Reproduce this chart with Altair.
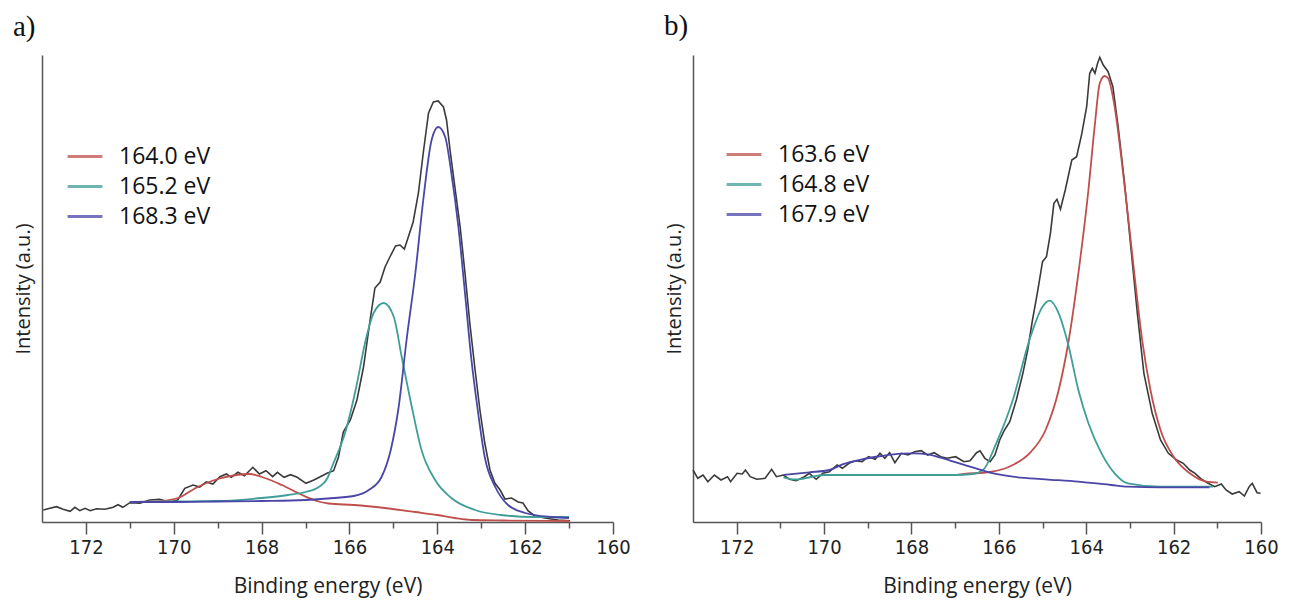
import altair as alt
import pandas as pd

# ---------------- Panel a ----------------
a_spec_E = [172.97, 172.82, 172.67, 172.52, 172.36, 172.25, 172.14, 172.02, 171.90, 171.76,
            171.57, 171.38, 171.27, 171.16, 171.00, 170.77, 170.55, 170.32, 170.10, 169.91,
            169.75, 169.56, 169.41, 169.26, 169.11, 168.95, 168.80, 168.69, 168.54, 168.39,
            168.20, 168.05, 167.90, 167.75, 167.64, 167.49, 167.34, 167.19, 166.99, 166.81,
            166.62, 166.51, 166.36, 166.25, 166.14, 165.98, 165.83, 165.68, 165.53, 165.42,
            165.30, 165.19, 165.08, 164.95, 164.85, 164.75, 164.66, 164.55, 164.43, 164.32,
            164.20, 164.09, 163.98, 163.86, 163.79, 163.71, 163.60, 163.48, 163.37, 163.26,
            163.14, 163.03, 162.92, 162.80, 162.69, 162.57, 162.46, 162.31, 162.16, 162.05,
            161.93, 161.78, 161.55, 161.25, 160.98]
a_spec_I = [12.0, 13.7, 15.3, 12.7, 10.7, 14.7, 11.3, 13.7, 11.3, 13.3,
            12.7, 14.7, 17.3, 14.7, 19.3, 18.7, 22.0, 22.7, 20.0, 22.0,
            33.7, 37.0, 35.0, 40.0, 38.0, 45.3, 48.0, 44.7, 49.7, 46.3,
            54.7, 48.0, 51.3, 45.3, 49.7, 44.7, 47.3, 44.7, 38.7, 42.0,
            46.3, 48.7, 51.3, 65.0, 90.0, 102.0, 122.0, 155.0, 202.0, 234.0,
            240.0, 255.0, 265.0, 276.0, 277.0, 273.0, 285.0, 300.0, 329.0, 369.0,
            409.0, 420.0, 421.0, 415.0, 402.0, 372.0, 335.0, 295.0, 249.0, 199.0,
            152.0, 112.0, 79.0, 52.0, 39.0, 32.0, 23.0, 24.0, 20.0, 19.0,
            11.0, 6.0, 4.0, 2.0, 1.3]

a_labels = ["164.0 eV", "165.2 eV", "168.3 eV"]
# red component (legend label 164.0 eV)
a_red_E = [171.0, 170.4, 169.9, 169.5, 169.0, 168.58, 168.28, 167.99, 167.54, 167.08,
           166.7, 166.47, 165.9, 165.2, 164.5, 164.0, 163.6, 163.2, 162.5, 161.0]
a_red_I = [20.0, 20.5, 24.0, 34.0, 43.0, 47.0, 48.0, 45.0, 37.0, 27.0,
           20.5, 18.5, 17.0, 14.0, 10.0, 7.0, 4.0, 2.0, 1.5, 1.0]
# teal component (legend label 165.2 eV)
a_teal_E = [171.0, 170.0, 169.0, 168.0, 167.4, 167.0, 166.7, 166.5, 166.4, 166.08,
            165.86, 165.63, 165.45, 165.22, 164.99, 164.81, 164.58, 164.36, 164.05, 163.68,
            163.14, 162.55, 161.78, 161.0]
a_teal_I = [20.0, 20.5, 21.0, 24.0, 27.0, 30.0, 35.0, 44.0, 55.0, 92.0,
            132.0, 182.0, 209.0, 219.0, 205.0, 165.0, 115.0, 72.0, 42.0, 24.0,
            12.0, 7.0, 5.0, 5.0]
# purple component (legend label 168.3 eV)
a_purple_E = [171.0, 170.0, 169.0, 168.0, 167.0, 166.5, 165.9, 165.56, 165.27, 165.06,
              164.88, 164.7, 164.5, 164.32, 164.13, 163.98, 163.82, 163.68, 163.52, 163.37,
              163.23, 163.07, 162.92, 162.68, 162.39, 162.0, 161.4, 161.0]
a_purple_I = [20.0, 20.0, 20.5, 21.0, 22.0, 23.5, 26.0, 32.0, 45.0, 72.0,
              115.0, 182.0, 249.0, 322.0, 382.0, 395.0, 385.0, 349.0, 295.0, 229.0,
              165.0, 109.0, 65.0, 35.0, 17.0, 9.0, 5.0, 4.0]

# ---------------- Panel b ----------------
b_spec_E = [173.0, 172.89, 172.77, 172.66, 172.51, 172.36, 172.21, 172.14, 171.99, 171.87,
            171.80, 171.69, 171.54, 171.35, 171.20, 171.09, 170.93, 170.79, 170.64, 170.45,
            170.34, 170.18, 170.03, 169.88, 169.70, 169.58, 169.43, 169.28, 169.13, 168.98,
            168.83, 168.72, 168.61, 168.50, 168.38, 168.23, 168.08, 167.93, 167.78, 167.63,
            167.48, 167.33, 167.18, 166.99, 166.80, 166.66, 166.51, 166.43, 166.32, 166.20,
            166.09, 165.98, 165.87, 165.75, 165.60, 165.45, 165.34, 165.23, 165.12, 165.00,
            164.91, 164.82, 164.74, 164.67, 164.59, 164.48, 164.33, 164.22, 164.10, 163.99,
            163.92, 163.86, 163.80, 163.74, 163.69, 163.61, 163.50, 163.39, 163.27, 163.13,
            162.98, 162.83, 162.68, 162.49, 162.30, 162.12, 161.93, 161.78, 161.63, 161.51,
            161.36, 161.21, 161.06, 160.91, 160.80, 160.66, 160.50, 160.38, 160.27, 160.20,
            160.09, 160.01]
b_spec_I = [52.0, 43.7, 47.0, 40.3, 47.0, 42.0, 45.3, 40.3, 48.7, 48.0,
            52.0, 45.3, 42.7, 43.7, 52.7, 45.3, 47.0, 42.7, 41.3, 45.3,
            48.7, 42.7, 48.7, 50.3, 57.0, 53.7, 58.7, 61.3, 60.3, 65.3,
            62.7, 68.7, 63.7, 69.3, 59.3, 68.7, 67.0, 70.3, 71.3, 67.0,
            69.3, 65.3, 63.7, 65.3, 60.3, 61.3, 69.3, 71.3, 63.7, 60.3,
            67.0, 82.0, 92.0, 100.3, 122.0, 148.7, 172.0, 202.0, 228.7, 260.3,
            265.3, 288.7, 318.7, 322.7, 312.7, 332.0, 362.0, 365.3, 388.7, 415.3,
            448.7, 453.7, 448.7, 458.7, 464.7, 457.0, 450.3, 435.3, 395.3, 342.0,
            275.3, 208.7, 148.7, 108.7, 82.0, 68.7, 62.0, 58.7, 52.0, 48.7,
            42.7, 38.7, 35.3, 38.0, 32.0, 28.0, 30.3, 26.0, 35.3, 38.7,
            29.3, 28.7]

b_labels = ["163.6 eV", "164.8 eV", "167.9 eV"]
b_red_E = [168.2, 167.0, 166.8, 166.2, 165.68, 165.3, 164.93, 164.63, 164.4, 164.18,
           163.95, 163.8, 163.69, 163.58, 163.5, 163.35, 163.2, 163.05, 162.9, 162.72,
           162.53, 162.3, 162.0, 161.63, 161.25, 160.99]
b_red_I = [47.0, 47.0, 48.0, 50.0, 57.0, 68.7, 92.0, 132.0, 182.0, 248.7,
           332.0, 398.7, 438.7, 446.0, 443.7, 415.3, 365.3, 308.7, 248.7, 182.0,
           132.0, 92.0, 65.3, 48.7, 40.3, 39.3]
b_teal_E = [170.93, 170.64, 170.3, 170.0, 169.0, 168.0, 167.0, 166.6, 166.36, 166.06,
            165.68, 165.3, 165.0, 164.84, 164.63, 164.4, 164.18, 163.95, 163.65, 163.35,
            163.05, 162.3, 161.1]
b_teal_I = [44.7, 42.5, 45.0, 47.0, 47.0, 47.0, 47.0, 48.0, 52.0, 78.7,
            122.0, 182.0, 215.3, 221.3, 208.7, 175.3, 132.0, 98.7, 68.7, 48.7,
            38.7, 35.3, 35.3]
b_purple_E = [170.93, 170.34, 169.88, 169.58, 169.13, 168.68, 168.23, 167.93, 167.63, 167.33,
              166.96, 166.58, 166.2, 165.68, 164.93, 164.18, 163.43, 163.05, 162.3, 161.18]
b_purple_I = [47.0, 49.7, 52.0, 57.7, 62.7, 66.0, 68.3, 68.7, 67.7, 64.3,
              59.3, 54.3, 49.3, 45.3, 42.7, 40.3, 37.0, 35.3, 34.7, 34.7]

# ---------------- Styling ----------------
COLORS = ["#bf4f4c", "#3f9e98", "#4b45a8"]
SPEC_COLOR = "#3a3a3a"
SANS = "Open Sans"
NARROW = "Liberation Sans Narrow, DejaVu Sans Condensed, sans-serif"
TICKS = list(range(160, 173))
PLOT_H = 467


def panel(spec_E, spec_I, comps, labels, letter, width, lx, ly):
    spec = pd.DataFrame({"E": spec_E, "I": spec_I})
    rows = []
    for lab, (E, I) in zip(labels, comps):
        for e, i in zip(E, I):
            rows.append({"E": e, "I": i, "comp": lab})
    fit = pd.DataFrame(rows)

    xaxis = alt.Axis(
        values=TICKS,
        labelExpr="datum.value % 2 === 0 ? datum.label : ''",
        tickSize=12,
        tickDash={"condition": {"test": "datum.value % 2 !== 0", "value": [6, 30]},
                  "value": [12, 0]},
        tickColor="#555555", tickWidth=1.5,
        domainColor="#555555", domainWidth=1.5,
        labelFont=NARROW, labelFontSize=20, labelColor="#222222", labelPadding=3,
        labelFlush=False,
        grid=False,
        title="Binding energy (eV)", titleFont=SANS, titleFontSize=21,
        titleFontWeight="normal", titleColor="#222222", titlePadding=18,
    )
    yaxis = alt.Axis(
        ticks=False, labels=False, grid=False,
        domainColor="#555555", domainWidth=1.5,
        title="Intensity (a.u.)", titleFont=SANS, titleFontSize=20,
        titleFontWeight="normal", titleColor="#222222", titlePadding=9,
    )
    x = alt.X("E:Q", scale=alt.Scale(domain=[160, 173], reverse=True, nice=False, zero=False),
              axis=xaxis)
    y = alt.Y("I:Q", scale=alt.Scale(domain=[0, PLOT_H], nice=False), axis=yaxis)

    spec_layer = alt.Chart(spec).mark_line(color=SPEC_COLOR, strokeWidth=1.6).encode(x=x, y=y)
    fit_layer = alt.Chart(fit).mark_line(strokeWidth=1.8, interpolate="monotone").encode(
        x=x, y=y,
        color=alt.Color(
            "comp:N",
            scale=alt.Scale(domain=labels, range=COLORS),
            legend=alt.Legend(
                title=None, orient="none", legendX=lx, legendY=ly,
                symbolType="M-1.2,0H1.2", symbolSize=841, symbolStrokeWidth=3,
                symbolOpacity=0.75,
                labelFont=SANS, labelFontSize=23, labelColor="#111111",
                labelOffset=18, rowPadding=2, padding=0,
            ),
        ),
        detail="comp:N",
    )
    return alt.layer(spec_layer, fit_layer).properties(
        width=width, height=PLOT_H,
        title=alt.TitleParams(letter, anchor="start", frame="bounds", font="Liberation Serif",
                              fontSize=29, fontWeight="normal", color="#111111", offset=13),
    )


pa = panel(a_spec_E, a_spec_I,
           [(a_red_E, a_red_I), (a_teal_E, a_teal_I), (a_purple_E, a_purple_I)],
           a_labels, "a)", 571, 27, 85.5)
pb = panel(b_spec_E, b_spec_I,
           [(b_red_E, b_red_I), (b_teal_E, b_teal_I), (b_purple_E, b_purple_I)],
           b_labels, "b)", 568, 35, 83.5)

chart = alt.hconcat(pa, pb, spacing=80, bounds="flush").resolve_scale(
    color="independent", x="independent", y="independent"
).resolve_legend(color="independent").properties(
    padding={"left": 5, "top": 4, "right": 0, "bottom": 4},
    background="white",
).configure_view(stroke=None)

chart.save("out.html", embed_options={"renderer": "svg", "actions": False})
